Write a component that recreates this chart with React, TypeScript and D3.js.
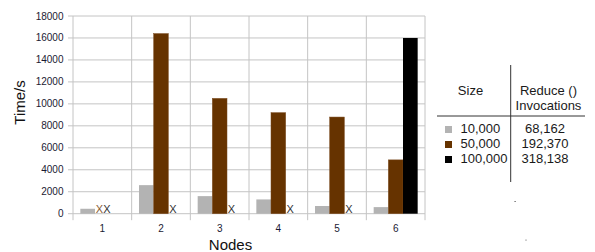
import React from 'react';
import * as d3 from 'd3';

// chart values
const nodes = ['1', '2', '3', '4', '5', '6'];
const sizes = ['10,000', '50,000', '100,000'];
const invocations = ['68,162', '192,370', '318,138'];
const time10k: (number | null)[] = [450, 2600, 1600, 1300, 700, 600];
const time50k: (number | null)[] = [null, 16400, 10500, 9200, 8800, 4900];
const time100k: (number | null)[] = [null, null, null, null, null, 16000];
const yTicks = [0, 2000, 4000, 6000, 8000, 10000, 12000, 14000, 16000, 18000];

const seriesValues = [time10k, time50k, time100k];
const barColors = ['#b3b3b3', '#663300', '#000000'];
const missColors = ['#888888', '#8a5a30', '#333333'];

const font = '"Liberation Sans", Arial, sans-serif';

export default function App() {
  const plot = { left: 73, right: 425, top: 16, bottom: 213.7 };

  const x = d3.scaleBand<string>().domain(nodes).range([plot.left, plot.right]).padding(0);
  const xs = d3.scaleBand<string>().domain(sizes).range([0, x.bandwidth()])
    .paddingInner(0).paddingOuter(0.5);
  const y = d3.scaleLinear().domain([0, 18000]).range([plot.bottom, plot.top]);

  const boundaries = nodes.map(n => x(n)!).concat([plot.right]);

  return (
    <svg width={595} height={252} style={{ position: 'absolute', left: 0, top: 0, background: '#fff' }}
      fontFamily={font}>
      {/* horizontal grid + y ticks */}
      {yTicks.map(t => (
        <g key={'y' + t}>
          <line x1={plot.left - 5} x2={plot.right} y1={y(t)} y2={y(t)} stroke="#c4c4c4" strokeWidth={1} />
          <text x={63.5} y={y(t)} dy="0.35em" textAnchor="end" fontSize={10} fill="#1a1a33">{t}</text>
        </g>
      ))}
      {/* vertical grid at category boundaries */}
      {boundaries.map((b, i) => (
        <line key={'v' + i} x1={b} x2={b} y1={plot.top} y2={plot.bottom + 6.5} stroke="#c4c4c4" strokeWidth={1} />
      ))}

      {/* bars */}
      {seriesValues.map((vals, si) => (
        <g key={'s' + si}>
          {vals.map((v, i) => v == null ? null : (
            <rect key={i}
              x={x(nodes[i])! + xs(sizes[si])!}
              y={y(v)}
              width={xs.bandwidth()}
              height={y(0) - y(v)}
              fill={barColors[si]}
              stroke={si === 1 ? '#7a4a1e' : 'none'}
              strokeWidth={0.5} />
          ))}
        </g>
      ))}

      {/* missing values marked with X */}
      {nodes.map((n, i) => {
        const missing = seriesValues.map((vals, si) => vals[i] == null ? si : -1).filter(si => si >= 0);
        if (missing.length === 0) return null;
        return (
          <text key={'x' + n} x={x(n)! + xs(sizes[missing[0]])! + 0.8} y={212.5} fontSize={11}>
            {missing.map(si => <tspan key={si} fill={missColors[si]}>X</tspan>)}
          </text>
        );
      })}

      {/* x tick labels */}
      {nodes.map(n => (
        <text key={'l' + n} x={x(n)! + x.bandwidth() / 2} y={231.5} textAnchor="middle" fontSize={10} fill="#1a1a33">{n}</text>
      ))}

      {/* axis titles */}
      <text x={230.5} y={250} textAnchor="middle" fontSize={15} fill="#111">Nodes</text>
      <text transform="translate(24.5,102.5) rotate(-90)" textAnchor="middle" fontSize={15} fill="#111">Time/s</text>

      {/* legend table */}
      <g fontSize={13} fill="#1a1a1a">
        <line x1={510.7} x2={510.7} y1={65} y2={182} stroke="#333" strokeWidth={1} />
        <line x1={437} x2={585} y1={116} y2={116} stroke="#333" strokeWidth={1} />
        <text x={470.5} y={95} textAnchor="middle">Size</text>
        <text x={548.5} y={95} textAnchor="middle">Reduce ()</text>
        <text x={548.5} y={110} textAnchor="middle">Invocations</text>
        {sizes.map((s, i) => (
          <g key={'lg' + s}>
            <rect x={445} y={128 + i * 15 - 2} width={7} height={7} fill={barColors[i]} />
            <text x={460.5} y={133.3 + i * 15}>{s}</text>
            <text x={545} y={133.3 + i * 15} textAnchor="middle">{invocations[i]}</text>
          </g>
        ))}
        <rect x={514.5} y={201} width={1.2} height={1} fill="#555" />
        <rect x={525.5} y={239.5} width={1} height={1.2} fill="#777" />
      </g>
    </svg>
  );
}
